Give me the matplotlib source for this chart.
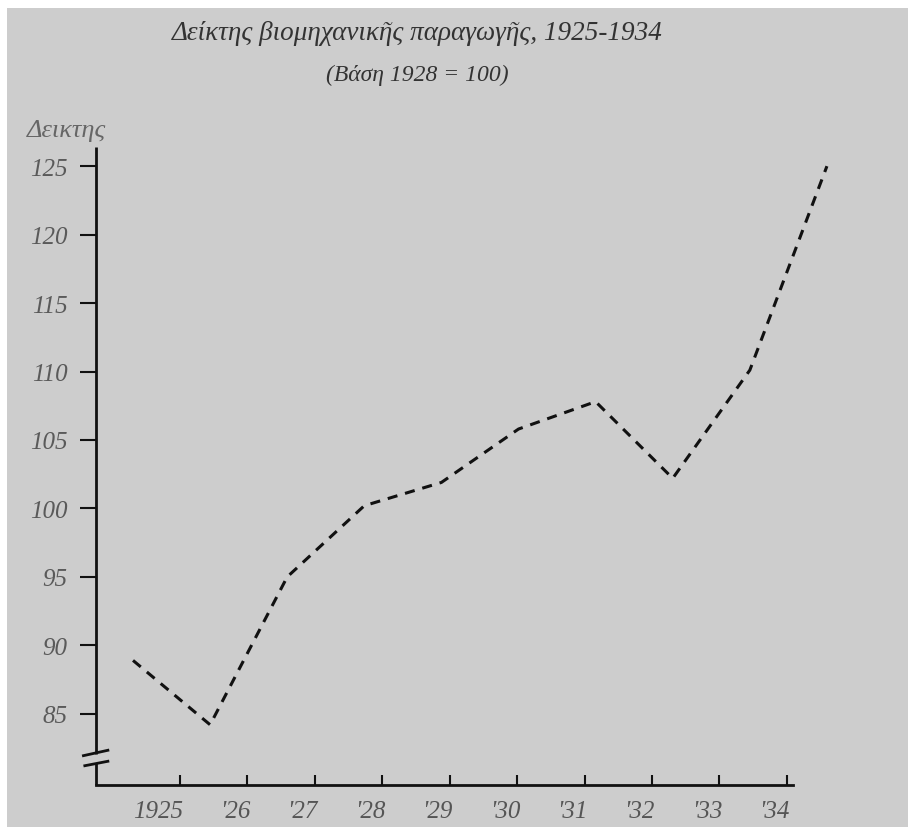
import numpy as np
import matplotlib
matplotlib.use("Agg")
import matplotlib.pyplot as plt
from matplotlib.patches import Rectangle

# index of industrial production, 1928 = 100
years = [1925, 1926, 1927, 1928, 1929, 1930, 1931, 1932, 1933, 1934]
index = [88.9, 84.2, 95.0, 100.2, 101.9, 105.8, 107.8, 102.2, 110.1, 125.0]
year_labels = ["1925", "'26", "'27", "'28", "'29", "'30", "'31", "'32", "'33", "'34"]
y_ticks = [85, 90, 95, 100, 105, 110, 115, 120, 125]

title = "Δείκτης βιομηχανικῆς παραγωγῆς, 1925-1934"
subtitle = "(Βάση 1928 = 100)"
ylabel = "Δεικτης"

serif = ["Liberation Serif", "DejaVu Serif"]
plt.rcParams["font.family"] = serif
plt.rcParams["font.style"] = "italic"

paper = "#cdcdcd"
ink = "#111111"
fig = plt.figure(figsize=(9.08, 8.28), dpi=100, facecolor="white")
fig.patches.append(Rectangle((7 / 908, 0), 1, 1 - 9 / 828, transform=fig.transFigure,
                             facecolor=paper, edgecolor="none", zorder=-10))

ax = fig.add_axes([96 / 908, 1 - 786 / 828, (793 - 96) / 908, (786 - 148) / 828])
ax.set_facecolor("none")

ax.plot(years, index, color=ink, lw=2.2, linestyle=(0, (3.3, 2.6)), clip_on=False)

ax.set_xlim(1924.52, 1933.56)
ax.set_ylim(79.8, 126.4)

# hand-drawn axis: ticks not aligned with the year points
xt = np.linspace(1925.61, 1933.48, len(years))
ax.set_xticks(xt)
ax.set_xticklabels([])
for x, lab in zip(xt, year_labels):
    ax.annotate(lab, (x, 0), xycoords=("data", "axes fraction"), xytext=(2, -11),
                textcoords="offset points", ha="right", va="top", fontsize=18,
                color="#555555", annotation_clip=False)
ax.tick_params(axis="x", direction="in", length=7.5, width=1.5, color=ink)

ax.set_yticks(y_ticks)
ax.set_yticklabels([str(v) for v in y_ticks], fontsize=18, color="#5a5a5a")
ax.tick_params(axis="y", direction="out", length=11.5, width=1.5, pad=9, color=ink)

for s in ["top", "right", "left"]:
    ax.spines[s].set_visible(False)
ax.spines["bottom"].set_linewidth(2)
ax.spines["bottom"].set_color(ink)

# left spine with break marks near the bottom
kw = dict(transform=ax.transAxes, color=ink, lw=2, clip_on=False, solid_capstyle="butt")
ax.plot([0, 0], [1, 0.049], **kw)
ax.plot([0, 0], [0.034, 0], **kw)
ax.plot([-0.020, 0.019], [0.0455, 0.0549], **kw)
ax.plot([-0.018, 0.019], [0.0298, 0.0376], **kw)

fig.text(67 / 908, 1 - 131 / 828, ylabel, ha="center", va="center", fontsize=19,
         color="#666666")
fig.text(417 / 908, 1 - 34 / 828, title, ha="center", va="center", fontsize=19.5,
         color="#333333")
fig.text(417 / 908, 1 - 75 / 828, subtitle, ha="center", va="center", fontsize=17,
         color="#333333")

fig.savefig("out.png", dpi=100, facecolor=fig.get_facecolor())
